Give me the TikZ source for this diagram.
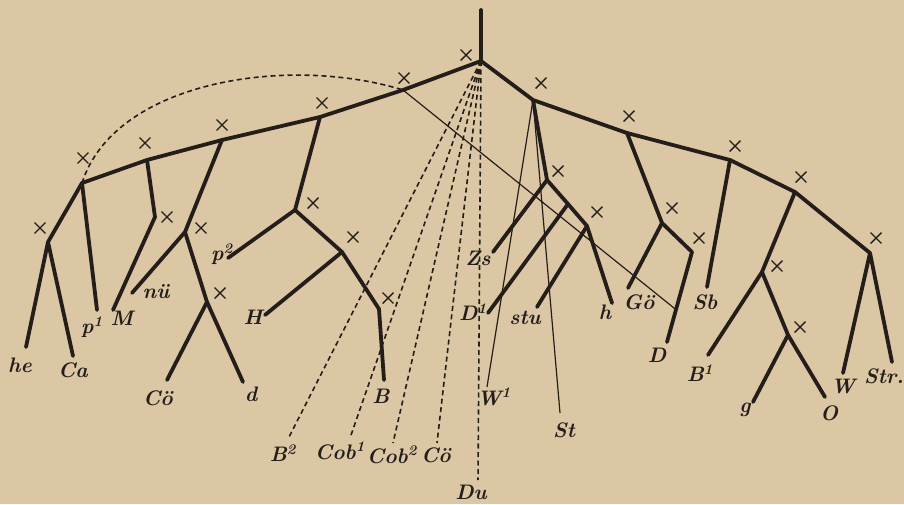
\documentclass[tikz,border=0pt]{standalone}
\usepackage{tikz}
\usetikzlibrary{shapes.misc,calc}
\definecolor{paper}{RGB}{219,199,164}
\definecolor{ink}{RGB}{36,30,26}

\tikzset{
  stem/.style={draw=ink, line width=3.8pt, line cap=round, line join=round},
  thinline/.style={draw=ink, line width=1.2pt},
  dashline/.style={draw=ink, line width=1.6pt, dash pattern=on 5pt off 3.5pt},
  crossmark/.style={cross out, draw=ink, line width=1.4pt, minimum size=9.5pt, inner sep=0pt},
  siglum/.style={text=ink, font=\fontsize{21}{24}\selectfont\bfseries\itshape, inner sep=0pt}
}

\begin{document}
\begin{tikzpicture}[x=1pt,y=-1pt]
\useasboundingbox[fill=paper] (0,0) rectangle (904,504);

\coordinate (top) at (481,10);
\coordinate (root) at (481,61);
\coordinate (l1) at (403,90);
\coordinate (l2) at (320,117);
\coordinate (l3) at (222,140);
\coordinate (l4) at (147,160);
\coordinate (l5) at (82,183);
\coordinate (l6) at (48,242);
\coordinate (l4b) at (155,217);
\coordinate (l7) at (185,232);
\coordinate (l8) at (207,302);
\coordinate (l9) at (295,210);
\coordinate (l10) at (342,252);
\coordinate (l11) at (379,309);
\coordinate (r1) at (533,100);
\coordinate (r2) at (627,133);
\coordinate (r3) at (730,160);
\coordinate (r4) at (795,192);
\coordinate (r5) at (870,253);
\coordinate (ra) at (547,180);
\coordinate (rb) at (568,204);
\coordinate (rc) at (587,226);
\coordinate (rd) at (662,223);
\coordinate (re) at (692,252);
\coordinate (rf) at (762,272);
\coordinate (rg) at (788,335);

\coordinate (he-end) at (26,347);
\coordinate (ca-end) at (73,356);
\coordinate (p1-end) at (97,310);
\coordinate (m-end) at (113,310);
\coordinate (nu-end) at (132,293);
\coordinate (co-end) at (167,380);
\coordinate (d-end) at (243,382);
\coordinate (p2-end) at (228,258);
\coordinate (h-end) at (265,315);
\coordinate (b-end) at (384,380);
\coordinate (b2-end) at (288,439);
\coordinate (cob1-end) at (350,438);
\coordinate (cob2-end) at (393,443);
\coordinate (co2-end) at (437,443);
\coordinate (du-end) at (478,480);
\coordinate (zs-end) at (493,252);
\coordinate (d1-end) at (488,313);
\coordinate (stu-end) at (537,307);
\coordinate (hs-end) at (612,303);
\coordinate (w1-end) at (487,387);
\coordinate (st-end) at (560,413);
\coordinate (go-end) at (628,288);
\coordinate (dd-end) at (667,342);
\coordinate (sb-end) at (707,287);
\coordinate (b1-end) at (708,355);
\coordinate (g-end) at (753,402);
\coordinate (o-end) at (825,397);
\coordinate (w-end) at (843,373);
\coordinate (str-end) at (892,362);

\draw[dashline] (l5) .. controls (115,80) and (290,55) .. (l1);
\draw[dashline] (root) -- (b2-end);
\draw[dashline] (root) -- (cob1-end);
\draw[dashline] (root) -- (cob2-end);
\draw[dashline] (root) -- (co2-end);
\draw[dashline] (root) -- (du-end);
\draw[thinline] (l1) -- ($(re)!0.64!(dd-end)$);
\draw[thinline] (r1) -- (w1-end);
\draw[thinline] (r1) -- (st-end);

\draw[stem] (top) -- (root);
\draw[stem] (root) -- (l1) -- (l2) -- (l3) -- (l4) -- (l5) -- (l6) -- (he-end);
\draw[stem] (l6) -- (ca-end);
\draw[stem] (l5) -- (p1-end);
\draw[stem] (l4) -- (l4b) -- (m-end);
\draw[stem] (l3) -- (l7) -- (nu-end);
\draw[stem] (l7) -- (l8) -- (co-end);
\draw[stem] (l8) -- (d-end);
\draw[stem] (l2) -- (l9) -- (p2-end);
\draw[stem] (l9) -- (l10) -- (h-end);
\draw[stem] (l10) -- (l11) -- (b-end);

\draw[stem] (root) -- (r1) -- (r2) -- (r3) -- (r4) -- (r5) -- (w-end);
\draw[stem] (r5) -- (str-end);
\draw[stem] (r1) -- (ra) -- (zs-end);
\draw[stem] (ra) -- (rb) -- (rc) -- (hs-end);
\draw[stem] (rb) -- (d1-end);
\draw[stem] (rc) -- (stu-end);
\draw[stem] (r2) -- (rd) -- (go-end);
\draw[stem] (rd) -- (re) -- (dd-end);
\draw[stem] (r3) -- (sb-end);
\draw[stem] (r4) -- (rf) -- (b1-end);
\draw[stem] (rf) -- (rg) -- (g-end);
\draw[stem] (rg) -- (o-end);

\node[crossmark] (x-root) at (466,55) {};
\node[crossmark] (x-l1) at (404,78) {};
\node[crossmark] (x-l2) at (322,103) {};
\node[crossmark] (x-l3) at (222,125) {};
\node[crossmark] (x-l4) at (145,143) {};
\node[crossmark] (x-l5) at (83,158) {};
\node[crossmark] (x-l6) at (40,228) {};
\node[crossmark] (x-l4b) at (167,217) {};
\node[crossmark] (x-l7) at (201,228) {};
\node[crossmark] (x-l8) at (220,293) {};
\node[crossmark] (x-l9) at (313,203) {};
\node[crossmark] (x-l10) at (353,237) {};
\node[crossmark] (x-l11) at (388,298) {};
\node[crossmark] (x-r1) at (541,83) {};
\node[crossmark] (x-r2) at (629,116) {};
\node[crossmark] (x-r3) at (735,146) {};
\node[crossmark] (x-r4) at (801,177) {};
\node[crossmark] (x-r5) at (876,238) {};
\node[crossmark] (x-ra) at (558,171) {};
\node[crossmark] (x-rc) at (597,212) {};
\node[crossmark] (x-rd) at (672,208) {};
\node[crossmark] (x-re) at (699,238) {};
\node[crossmark] (x-rf) at (777,266) {};
\node[crossmark] (x-rg) at (800,327) {};

\node[siglum] (he) at (20,365) {he};
\node[siglum] (ca) at (73,370) {Ca};
\node[siglum] (p1) at (92,327) {p\textsuperscript{1}};
\node[siglum] (m) at (122,318) {M};
\node[siglum] (nu) at (156,292) {nü};
\node[siglum] (p2) at (222,254) {p\textsuperscript{2}};
\node[siglum] (hh) at (253,317) {H};
\node[siglum] (co) at (158,398) {Cö};
\node[siglum] (d) at (251,394) {d};
\node[siglum] (b) at (381,396) {B};
\node[siglum] (b2) at (283,453) {B\textsuperscript{2}};
\node[siglum] (cob1) at (340,451) {Cob\textsuperscript{1}};
\node[siglum] (cob2) at (392,455) {Cob\textsuperscript{2}};
\node[siglum] (co2) at (436,455) {Cö};
\node[siglum] (du) at (471,492) {Du};
\node[siglum] (zs) at (478,258) {Zs};
\node[siglum] (d1) at (473,312) {D\textsuperscript{1}};
\node[siglum] (stu) at (525,318) {stu};
\node[siglum] (hs) at (605,312) {h};
\node[siglum] (go) at (639,302) {Gö};
\node[siglum] (st) at (564,430) {St};
\node[siglum] (w1) at (494,397) {W\textsuperscript{1}};
\node[siglum] (dd) at (657,355) {D};
\node[siglum] (sb) at (705,302) {Sb};
\node[siglum] (b1) at (700,373) {B\textsuperscript{1}};
\node[siglum] (g) at (745,410) {g};
\node[siglum] (o) at (829,413) {O};
\node[siglum] (w) at (843,386) {W};
\node[siglum] (str) at (884,376) {Str.};
\end{tikzpicture}
\end{document}
